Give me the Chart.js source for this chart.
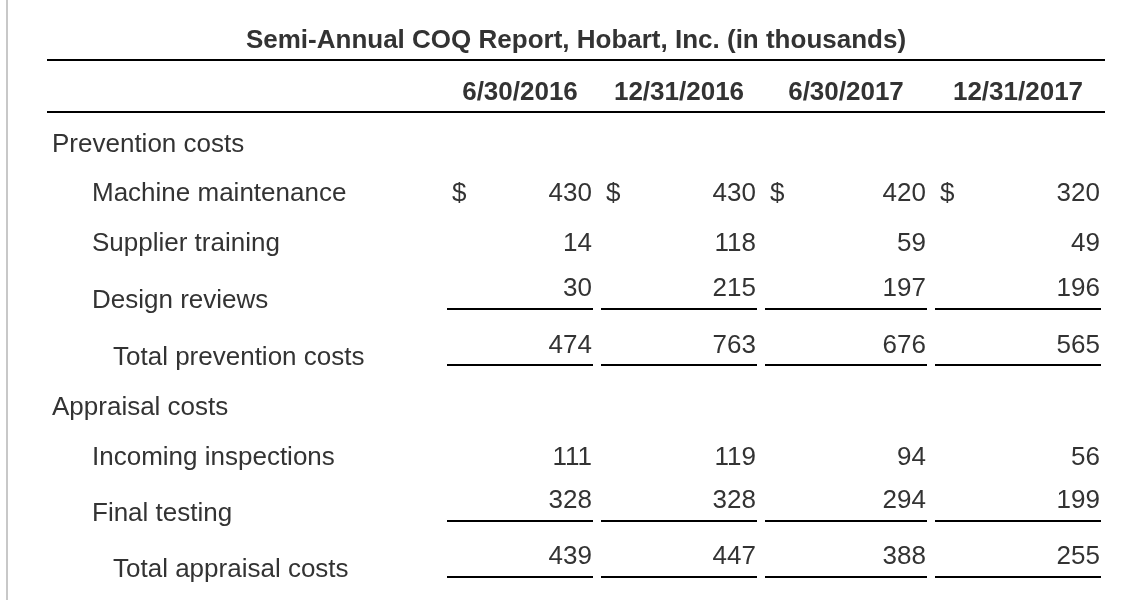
<!DOCTYPE html>
<html><head><meta charset="utf-8">
<script src="https://cdn.jsdelivr.net/npm/chart.js@4/dist/chart.umd.min.js"></script>
<style>html,body{margin:0;padding:0;background:#fff;}canvas{display:block;}</style>
</head><body>
<canvas id="c" width="1138" height="600"></canvas>
<script>
// ---- data ----
const TITLE = 'Semi-Annual COQ Report, Hobart, Inc. (in thousands)';
const PERIODS = ['6/30/2016', '12/31/2016', '6/30/2017', '12/31/2017'];
const SECTIONS = ['Prevention costs', 'Appraisal costs'];
const ROW_LABELS = ['Machine maintenance', 'Supplier training', 'Design reviews', 'Total prevention costs',
                    'Incoming inspections', 'Final testing', 'Total appraisal costs'];
const machineMaintenance  = [430, 430, 420, 320];
const supplierTraining    = [14, 118, 59, 49];
const designReviews       = [30, 215, 197, 196];
const totalPrevention     = [474, 763, 676, 565];
const incomingInspections = [111, 119, 94, 56];
const finalTesting        = [328, 328, 294, 199];
const totalAppraisal      = [439, 447, 388, 255];
const VALUES = [machineMaintenance, supplierTraining, designReviews, totalPrevention,
                incomingInspections, finalTesting, totalAppraisal];

// ---- layout / style (layout units map 1:1 through the hidden linear scales) ----
const W = 1138, H = 600;
const FONT = '"Liberation Sans", Arial, Helvetica, sans-serif';
const TEXT = '#333333';
const L = {
  border: { x: 6, w: 2, color: '#c8c8c8' },
  rule: { x0: 47, x1: 1105, w: 2 },
  titleY: 48, rule1Y: 60, headerY: 100, rule2Y: 112,
  cellLeft: [447, 601, 765, 935],
  cellRight: [593, 757, 927, 1101],
  indent: { section: 52, item: 92, total: 113 },
  rows: [
    { kind: 'section', idx: 0, labelY: 152 },
    { kind: 'item',  idx: 0, labelY: 201, valueY: 201, dollar: true },
    { kind: 'item',  idx: 1, labelY: 251, valueY: 251 },
    { kind: 'item',  idx: 2, labelY: 308, valueY: 296, underline: 309 },
    { kind: 'total', idx: 3, labelY: 365, valueY: 353, underline: 365 },
    { kind: 'section', idx: 1, labelY: 415 },
    { kind: 'item',  idx: 4, labelY: 465, valueY: 465 },
    { kind: 'item',  idx: 5, labelY: 521, valueY: 508, underline: 521 },
    { kind: 'total', idx: 6, labelY: 577, valueY: 564, underline: 577 }
  ]
};

const dataRows = L.rows.filter(r => r.kind !== 'section');
const datasets = dataRows.map(r => ({
  label: ROW_LABELS[r.idx],
  data: VALUES[r.idx].map((v, i) => ({ x: L.cellRight[i] - 1, y: r.valueY, v: v })),
  pointRadius: 0, pointHoverRadius: 0, showLine: false
}));

const tablePlugin = {
  id: 'tablePlugin',
  afterDatasetsDraw(chart) {
    const ctx = chart.ctx, xs = chart.scales.x, ys = chart.scales.y;
    const X = v => xs.getPixelForValue(v), Y = v => ys.getPixelForValue(v);
    ctx.save();
    // left border
    ctx.fillStyle = L.border.color;
    ctx.fillRect(X(L.border.x), Y(0), L.border.w, Y(H) - Y(0));
    // horizontal rules
    ctx.fillStyle = '#000';
    [L.rule1Y, L.rule2Y].forEach(y => ctx.fillRect(X(L.rule.x0), Y(y) - 1, X(L.rule.x1) - X(L.rule.x0), L.rule.w));
    // title
    ctx.fillStyle = TEXT;
    ctx.textBaseline = 'alphabetic';
    ctx.font = 'bold 26px ' + FONT;
    ctx.textAlign = 'center';
    ctx.fillText(TITLE, X((L.rule.x0 + L.rule.x1) / 2), Y(L.titleY));
    // header periods
    PERIODS.forEach((p, i) => ctx.fillText(p, X((L.cellLeft[i] + L.cellRight[i]) / 2), Y(L.headerY)));
    // row labels
    ctx.font = '26px ' + FONT;
    ctx.textAlign = 'left';
    L.rows.forEach(r => {
      const txt = r.kind === 'section' ? SECTIONS[r.idx] : ROW_LABELS[r.idx];
      ctx.fillText(txt, X(L.indent[r.kind]), Y(r.labelY));
      if (r.dollar) L.cellLeft.forEach(xl => ctx.fillText('$', X(xl + 5), Y(r.valueY)));
      if (r.underline !== undefined) {
        ctx.fillStyle = '#000';
        L.cellLeft.forEach((xl, i) => ctx.fillRect(X(xl), Y(r.underline) - 1, X(L.cellRight[i]) - X(xl), 2));
        ctx.fillStyle = TEXT;
      }
    });
    // values from dataset elements
    ctx.textAlign = 'right';
    chart.data.datasets.forEach((ds, di) => {
      const meta = chart.getDatasetMeta(di);
      meta.data.forEach((el, j) => ctx.fillText(String(ds.data[j].v), el.x, el.y));
    });
    ctx.restore();
  }
};

new Chart(document.getElementById('c'), {
  type: 'scatter',
  data: { datasets },
  options: {
    responsive: false, animation: false, events: [],
    layout: { padding: 0, autoPadding: false },
    plugins: { legend: { display: false }, tooltip: { enabled: false }, title: { display: false } },
    scales: {
      x: { type: 'linear', min: 0, max: W, display: false },
      y: { type: 'linear', min: 0, max: H, reverse: true, display: false }
    }
  },
  plugins: [tablePlugin]
});
</script>
</body></html>
